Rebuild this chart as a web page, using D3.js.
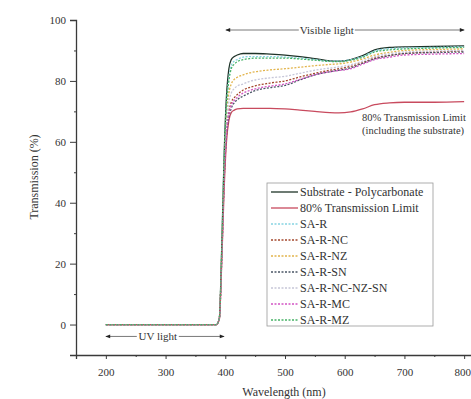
<!DOCTYPE html>
<html>
<head>
<meta charset="utf-8">
<script src="https://cdn.jsdelivr.net/npm/d3@7"></script>
<style>
  body { margin: 0; background: #fff; }
  svg { display: block; font-family: "Liberation Serif", "DejaVu Serif", serif; }
</style>
</head>
<body>
<svg id="chart" width="471" height="399"></svg>
<script>
// wavelength grid (nm)
const wavelengths = [200, 250, 300, 350, 385, 390, 394, 398, 402, 406, 410, 415, 420, 430, 440, 450, 475, 500, 525, 550, 575, 590, 610, 630, 650, 675, 700, 750, 800]

const substrate = [0, 0, 0, 0, 0, 2, 25, 55, 75, 84, 87, 88, 88.5, 89, 89, 89, 88.8, 88.5, 88, 87.3, 86.6, 86.5, 87, 88.3, 90.2, 91, 91.2, 91.3, 91.5]
const limit80 = [0, 0, 0, 0, 0, 1.6, 20, 44, 60, 67, 69.6, 70.4, 70.8, 71, 71, 71, 71, 70.8, 70.4, 70, 69.6, 69.5, 69.8, 70.8, 72.2, 72.8, 73, 73, 73.2]
const saR = [0, 0, 0, 0, 0, 2, 24, 53, 72, 81, 85, 86.5, 87, 87.8, 88, 88, 88, 87.8, 87.5, 87, 86.5, 86.5, 87, 88, 89.8, 90.6, 90.8, 91, 91.2]
const saRNC = [0, 0, 0, 0, 0, 2, 22, 48, 64, 70, 73, 74.5, 75.5, 77, 77.8, 78.4, 79.3, 80, 81.3, 82.5, 83.5, 84, 84.8, 86, 87.5, 88.4, 89, 89.5, 89.8]
const saRNZ = [0, 0, 0, 0, 0, 2, 23, 51, 69, 76, 79, 80.5, 81.2, 82, 82.6, 83, 83.6, 84, 84.5, 85, 85.4, 85.6, 86.2, 87.2, 88.5, 89.4, 90, 90.3, 90.5]
const saRSN = [0, 0, 0, 0, 0, 2, 21, 47, 62, 68, 71, 72.8, 73.8, 75, 76, 76.8, 77.8, 78.5, 80.3, 82, 83, 83.5, 84.3, 85.8, 87.2, 88.3, 89, 89.3, 89.5]
const saRNCNZSN = [0, 0, 0, 0, 0, 2, 22, 50, 66, 73, 76, 77.5, 78.3, 79, 79.8, 80.3, 81, 81.5, 82.5, 83.5, 84.2, 84.6, 85.3, 86.5, 88, 88.9, 89.5, 89.8, 90]
const saRMC = [0, 0, 0, 0, 0, 2, 21, 47, 63, 69, 72, 73.6, 74.6, 76, 76.8, 77.4, 78.3, 79, 80.5, 82, 83, 83.4, 84, 85.5, 87, 87.8, 88.5, 88.8, 89]
const saRMZ = [0, 0, 0, 0, 0, 2, 24, 53, 72, 80, 84, 85.5, 86.3, 87, 87.3, 87.5, 87.5, 87.5, 87.2, 86.8, 86.4, 86.3, 86.8, 87.8, 89.5, 90.2, 90.5, 90.8, 91]

const seriesNames = ['Substrate - Polycarbonate', '80% Transmission Limit', 'SA-R', 'SA-R-NC', 'SA-R-NZ', 'SA-R-SN', 'SA-R-NC-NZ-SN', 'SA-R-MC', 'SA-R-MZ']
const seriesValues = [substrate, limit80, saR, saRNC, saRNZ, saRSN, saRNCNZSN, saRMC, saRMZ]
const seriesColors = ['#1e3328', '#c84a5e', '#86d4e2', '#a4482e', '#e2b44c', '#4a5566', '#c6c6d8', '#d254c4', '#46b266']
const seriesDashed = [false, false, true, true, true, true, true, true, true]

const xTicks = [200, 300, 400, 500, 600, 700, 800]
const yTicks = [0, 20, 40, 60, 80, 100]

const svg = d3.select('#chart')
const axisColor = '#3a3a3a'

const x = d3.scaleLinear().domain([150, 850]).range([76, 494])
const y = d3.scaleLinear().domain([-10, 100]).range([355, 20])

// axes
const xAxis = svg.append('g')
  .attr('transform', `translate(0,${y(-10)})`)
  .call(d3.axisBottom(x).tickValues(d3.range(150, 851, 50)).tickSize(4).tickFormat((d) => xTicks.includes(d) ? d : ''))
const yAxis = svg.append('g')
  .attr('transform', `translate(${x(150)},0)`)
  .call(d3.axisLeft(y).tickValues(d3.range(-10, 101, 10)).tickSize(6).tickFormat((d) => yTicks.includes(d) ? d : ''))

for (const g of [xAxis, yAxis]) {
  g.select('.domain').attr('stroke', axisColor).attr('stroke-width', 1.3)
  g.selectAll('.tick line').attr('stroke', axisColor)
  g.selectAll('.tick text')
    .attr('fill', '#333')
    .style('font-family', '"Liberation Serif", serif')
    .style('font-size', '11px')
}
// minor ticks shorter
xAxis.selectAll('.tick').filter((d) => !xTicks.includes(d)).select('line').attr('y2', 2)
yAxis.selectAll('.tick').filter((d) => !yTicks.includes(d)).select('line').attr('x2', -2)
xAxis.selectAll('.tick text').attr('dy', '1.25em')
// last label sits at the window edge, nudge it in
xAxis.selectAll('.tick').filter((d) => d === 800).select('text').attr('x', -2)
yAxis.selectAll('.tick text').attr('x', -10)

// axis titles
svg.append('text')
  .attr('transform', `translate(38,177) rotate(-90)`)
  .attr('text-anchor', 'middle')
  .attr('font-size', 12)
  .attr('fill', '#333')
  .text('Transmission (%)')
svg.append('text')
  .attr('x', 284)
  .attr('y', 396)
  .attr('text-anchor', 'middle')
  .attr('font-size', 12)
  .attr('fill', '#333')
  .text('Wavelength (nm)')

// curves
const line = d3.line()
  .x((d) => x(d[0]))
  .y((d) => y(d[1]))
  .curve(d3.curveMonotoneX)

seriesValues.forEach((vals, i) => {
  svg.append('path')
    .datum(wavelengths.map((w, j) => [w, vals[j]]))
    .attr('fill', 'none')
    .attr('stroke', seriesColors[i])
    .attr('stroke-width', 1.3)
    .attr('stroke-dasharray', seriesDashed[i] ? '2,1.5' : null)
    .attr('d', line)
})

// arrow markers
const defs = svg.append('defs')
defs.append('marker')
  .attr('id', 'arrow')
  .attr('viewBox', '0 0 10 10')
  .attr('refX', 9).attr('refY', 5)
  .attr('markerWidth', 7).attr('markerHeight', 6)
  .attr('orient', 'auto-start-reverse')
  .append('path')
  .attr('d', 'M0,1 L10,5 L0,9 Z')
  .attr('fill', '#222')

function rangeArrow(x0, x1, yy, label, textX, gap) {
  svg.append('line')
    .attr('x1', x0).attr('x2', textX - gap)
    .attr('y1', yy).attr('y2', yy)
    .attr('stroke', '#555').attr('stroke-width', 0.8)
    .attr('marker-start', 'url(#arrow)')
  svg.append('line')
    .attr('x1', textX + gap).attr('x2', x1)
    .attr('y1', yy).attr('y2', yy)
    .attr('stroke', '#555').attr('stroke-width', 0.8)
    .attr('marker-end', 'url(#arrow)')
  svg.append('text')
    .attr('x', textX).attr('y', yy + 4)
    .attr('text-anchor', 'middle')
    .attr('font-size', 11)
    .attr('fill', '#333')
    .text(label)
}
rangeArrow(x(401), x(800), 30, 'Visible light', x(570), 28)
rangeArrow(x(200), x(398), y(-3.9), 'UV light', x(287), 21)

// 80% annotation
svg.append('text')
  .attr('x', 362).attr('y', 121)
  .attr('font-size', 10.5).attr('fill', '#333')
  .text('80% Transmission Limit')
svg.append('text')
  .attr('x', 362).attr('y', 134)
  .attr('font-size', 10.5).attr('fill', '#333')
  .text('(including the substrate)')

// legend
const legend = svg.append('g').attr('transform', 'translate(267,183)')
legend.append('rect')
  .attr('width', 166).attr('height', 143)
  .attr('fill', '#fff')
  .attr('stroke', '#999').attr('stroke-width', 0.8)
seriesNames.forEach((name, i) => {
  const ly = 9 + i * 16
  legend.append('line')
    .attr('x1', 4).attr('x2', 31)
    .attr('y1', ly).attr('y2', ly)
    .attr('stroke', seriesColors[i])
    .attr('stroke-width', 1.3)
    .attr('stroke-dasharray', seriesDashed[i] ? '2,1.5' : null)
  legend.append('text')
    .attr('x', 33).attr('y', ly + 4)
    .attr('font-size', 12).attr('fill', '#333')
    .text(name)
})
</script>
</body>
</html>
